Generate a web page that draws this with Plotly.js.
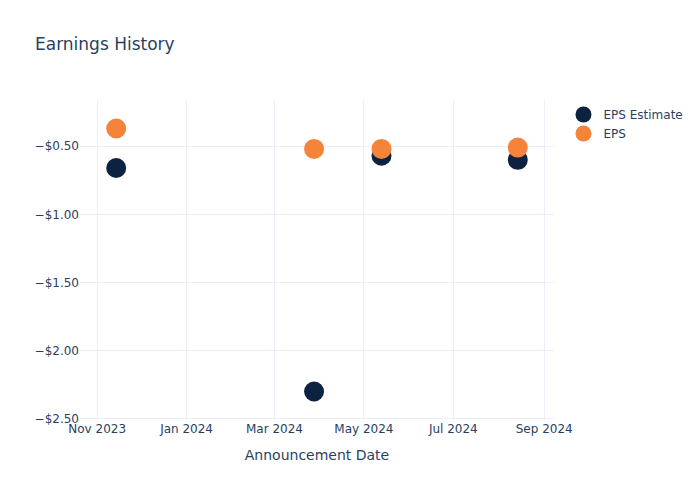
<!DOCTYPE html>
<html>
<head>
<meta charset="utf-8">
<script src="https://cdn.plot.ly/plotly-3.0.1.min.js"></script>
<style>html,body{margin:0;padding:0;background:#fff;}#chart{width:700px;height:500px;}</style>
</head>
<body>
<div id="chart"></div>
<script>
const dates = ["2023-11-14", "2024-03-28", "2024-05-13", "2024-08-14"];
const epsEstimate = [-0.66, -2.30, -0.57, -0.60];
const epsActual = [-0.37, -0.52, -0.52, -0.51];

const traces = [
  {
    type: 'scatter', mode: 'markers', name: 'EPS Estimate',
    x: dates, y: epsEstimate,
    marker: {size: 20, color: '#0d2240'}
  },
  {
    type: 'scatter', mode: 'markers', name: 'EPS',
    x: dates, y: epsActual,
    marker: {size: 20, color: '#f6833a'}
  }
];

const layout = {
  width: 700, height: 500,
  paper_bgcolor: '#ffffff', plot_bgcolor: '#ffffff',
  font: {family: '"DejaVu Sans", verdana, arial, sans-serif', color: '#2a3f5f', size: 12},
  title: {text: 'Earnings History', x: 0.05, font: {size: 17, color: '#2a3f5f'}},
  margin: {l: 80, r: 80, t: 100, b: 80},
  xaxis: {
    title: {text: 'Announcement Date', font: {size: 14}, standoff: 15},
    type: 'date',
    gridcolor: '#EBF0F8', zeroline: false, showline: false, ticks: '',
    automargin: true
  },
  yaxis: {
    tickformat: '$.2f',
    title: {standoff: 15},
    gridcolor: '#EBF0F8', zerolinecolor: '#EBF0F8', showline: false, ticks: '',
    automargin: true
  },
  legend: {font: {size: 12}},
  showlegend: true
};

Plotly.newPlot('chart', traces, layout, {displayModeBar: false});
</script>
</body>
</html>
